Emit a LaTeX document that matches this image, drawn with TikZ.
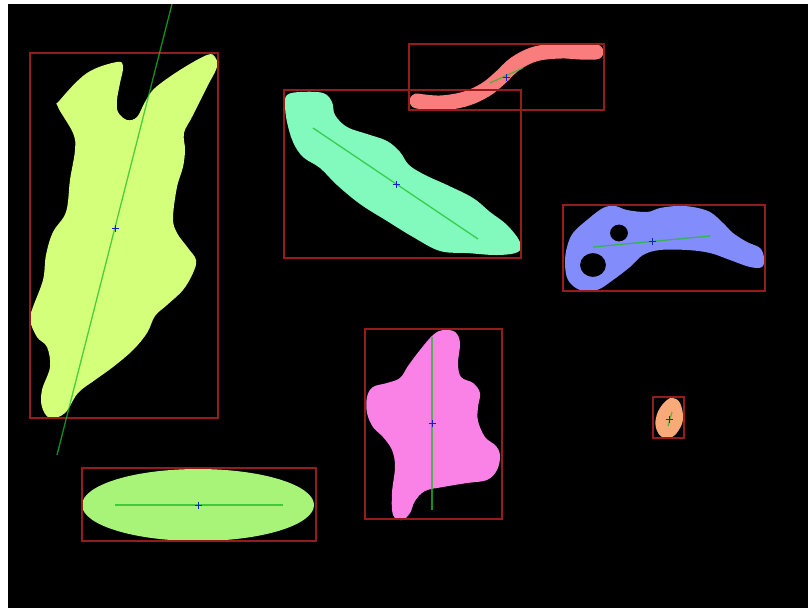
\documentclass[tikz,border=0pt]{standalone}
\usepackage{amsmath}
\usepackage{amssymb}
\usepackage{tikz}

\definecolor{boxred}{RGB}{150,28,28}
\definecolor{axisgreen}{RGB}{30,190,40}
\definecolor{crossblue}{RGB}{20,30,210}
\definecolor{leafyellow}{RGB}{212,255,122}
\definecolor{ovalgreen}{RGB}{168,244,120}
\definecolor{mintgreen}{RGB}{130,250,190}
\definecolor{wormred}{RGB}{250,125,125}
\definecolor{lakeblue}{RGB}{130,140,250}
\definecolor{inkpink}{RGB}{250,130,230}
\definecolor{eggorange}{RGB}{250,170,120}

\begin{document}
\begin{tikzpicture}[x=1pt,y=-1pt,
    box/.style={draw=boxred,line width=1.1pt},
    axis/.style={draw=axisgreen,line width=1.3pt,opacity=0.75},
    cross/.style={draw=crossblue,line width=0.9pt}]
            \useasboundingbox (0,0) rectangle (808,608);
            \fill[white] (0,0) rectangle (808,608);
            \fill[black] (8,4) rectangle (808,608);

            % centroids
            \coordinate (leaf) at (115,228);
            \coordinate (oval) at (198,505);
            \coordinate (mint) at (396,184);
            \coordinate (worm) at (506,77);
            \coordinate (lake) at (652,241);
            \coordinate (ink) at (432,423);
            \coordinate (egg) at (669,419);

            % principal axes
            \coordinate (leaf1) at (172,4);   \coordinate (leaf2) at (57,455);
            \coordinate (oval1) at (115,505); \coordinate (oval2) at (283,505);
            \coordinate (mint1) at (313,128); \coordinate (mint2) at (478,239);
            \coordinate (worm1) at (490,83);  \coordinate (worm2) at (523,68);
            \coordinate (lake1) at (593,247); \coordinate (lake2) at (710,236);
            \coordinate (ink1) at (432,337);  \coordinate (ink2) at (432,510);
            \coordinate (egg1) at (672,412);  \coordinate (egg2) at (668,426);

            % regions
            \fill[leafyellow] plot[smooth cycle,tension=0.6] coordinates {
                (117,62) (87,73) (60,100) (58,107) (73,133) (75,150) (70,180)
                (66,212) (53,232) (46,255) (43,280) (33,307) (30,320) (37,337)
                (47,347) (50,367) (42,390) (42,407) (50,418) (65,413) (78,393)
                (95,380) (113,367) (133,350) (147,333) (155,316) (167,305)
                (183,290) (193,273) (196,260) (188,248) (177,233) (173,218)
                (177,187) (183,167) (185,150) (184,133) (192,117) (207,87)
                (217,67) (215,57) (207,55) (180,70) (155,88) (145,102)
                (137,117) (127,120) (118,112) (117,100) (120,83) (123,67)};
            \fill[ovalgreen] (oval) ellipse (116 and 36);
            \fill[mintgreen] plot[smooth cycle,tension=0.6] coordinates {
                (287,95) (300,92) (323,93) (332,102) (335,115) (347,127)
                (367,134) (387,141) (400,152) (409,165) (425,175) (447,185)
                (473,198) (490,212) (507,225) (520,242) (518,252) (497,255)
                (467,253) (440,251) (413,237) (387,221) (360,204) (337,185)
                (320,168) (303,157) (293,142) (287,122) (285,105)};
            \draw[wormred,line width=15pt,line cap=round] plot[smooth,tension=0.6] coordinates {
                (417,101) (440,103) (465,99) (485,90) (500,78) (515,64)
                (535,54) (560,51) (580,52) (596,52)};
            \fill[lakeblue,even odd rule] plot[smooth cycle,tension=0.6] coordinates {
                (573,233) (587,220) (603,208) (615,206) (627,210) (647,212)
                (660,208) (677,206) (693,207) (710,212) (723,223) (733,233)
                (747,242) (760,248) (764,258) (762,267) (750,267) (730,260)
                (710,253) (687,250) (660,250) (643,255) (630,267) (613,280)
                (597,290) (580,290) (568,280) (565,263) (567,247)}
                (619,233) ellipse (9 and 8.5)
                (593,265) ellipse (13 and 12);
            \fill[inkpink] plot[smooth cycle,tension=0.6] coordinates {
                (443,330) (455,332) (460,343) (458,363) (461,377) (473,383)
                (480,393) (478,407) (478,421) (485,437) (496,446) (500,456)
                (497,470) (487,480) (467,483) (443,487) (425,491) (415,501)
                (410,513) (402,520) (393,515) (392,493) (395,467) (392,450)
                (383,437) (373,427) (367,413) (367,397) (373,387) (387,383)
                (400,378) (408,366) (420,350) (433,335)};
            \fill[eggorange] plot[smooth cycle,tension=0.7] coordinates {
                (673,398) (680,403) (683,417) (680,428) (672,437) (662,437)
                (656,428) (656,418) (660,408) (667,400)};

            % bounding boxes
            \draw[box] (30,53) rectangle (218,418);
            \draw[box] (82,468) rectangle (316,541);
            \draw[box] (284,90) rectangle (521,258);
            \draw[box] (409,44) rectangle (604,110);
            \draw[box] (563,205) rectangle (765,291);
            \draw[box] (365,329) rectangle (502,519);
            \draw[box] (653,397) rectangle (684,438);

            \foreach \p in {leaf,oval,mint,worm,lake,ink,egg}{
                \draw[axis] (\p1)--(\p2);
                \draw[cross] ([xshift=-3.5pt]\p) -- ([xshift=3.5pt]\p)
                    ([yshift=-3.5pt]\p) -- ([yshift=3.5pt]\p);
            }
        \end{tikzpicture}
\end{document}
